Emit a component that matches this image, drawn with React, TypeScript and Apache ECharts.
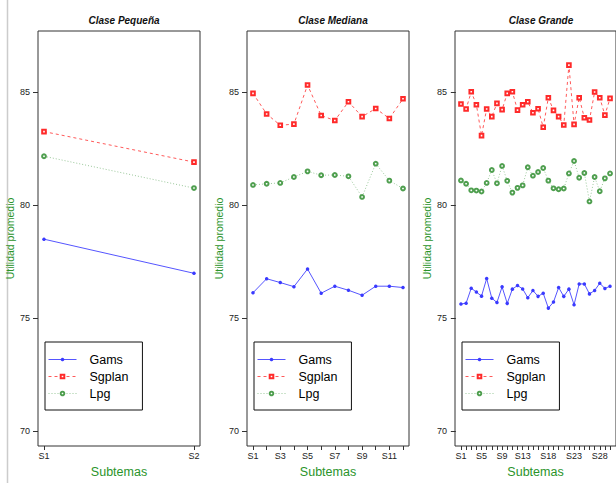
import React, { useEffect, useRef } from "react";
import * as echarts from "echarts";

// ---- Data ----
const panelTitles = ["Clase Pequeña", "Clase Mediana", "Clase Grande"];
const seriesNames = ["Gams", "Sgplan", "Lpg"];

const catsSmall = ["S1", "S2"];
const gamsSmall = [78.48, 76.97];
const sgplanSmall = [83.24, 81.89];
const lpgSmall = [82.15, 80.74];

const catsMed = ["S1", "S2", "S3", "S4", "S5", "S6", "S7", "S8", "S9", "S10", "S11", "S12"];
const gamsMed = [76.11, 76.73, 76.56, 76.38, 77.16, 76.09, 76.4, 76.22, 76.0, 76.4, 76.4, 76.34];
const sgplanMed = [84.93, 84.02, 83.52, 83.57, 85.3, 83.95, 83.73, 84.56, 83.9, 84.26, 83.82, 84.69];
const lpgMed = [80.88, 80.93, 80.97, 81.23, 81.48, 81.31, 81.32, 81.26, 80.35, 81.82, 81.07, 80.72];

const catsLarge = [
  "S1", "S2", "S3", "S4", "S5", "S6", "S7", "S8", "S9", "S10",
  "S11", "S12", "S13", "S14", "S15", "S16", "S17", "S18", "S19", "S20",
  "S21", "S22", "S23", "S24", "S25", "S26", "S27", "S28", "S29", "S30",
];
const gamsLarge = [
  75.61, 75.65, 76.31, 76.14, 75.96, 76.74, 75.87, 75.68, 76.37, 75.64,
  76.27, 76.43, 76.28, 75.89, 76.21, 75.95, 76.09, 75.43, 75.7, 76.34,
  75.95, 76.27, 75.58, 76.5, 76.5, 76.06, 76.21, 76.53, 76.3, 76.4,
];
const sgplanLarge = [
  84.46, 84.24, 85.0, 84.43, 83.06, 84.24, 83.9, 84.49, 84.21, 84.93,
  85.0, 84.19, 84.43, 84.56, 84.07, 84.25, 83.43, 84.74, 84.18, 83.9,
  83.53, 86.18, 83.56, 84.74, 83.85, 83.75, 84.99, 84.74, 83.97, 84.71,
];
const lpgLarge = [
  81.08, 80.93, 80.64, 80.63, 80.59, 80.97, 81.54, 80.95, 81.72, 81.06,
  80.54, 80.75, 80.86, 81.66, 81.29, 81.45, 81.63, 81.07, 80.73, 80.69,
  80.72, 81.39, 81.94, 81.2, 81.41, 80.15, 81.23, 80.6, 81.17, 81.39,
];

const yTicks = [70, 75, 80, 85];
const labelIdxSmall = [1, 2];
const labelIdxMed = [1, 3, 5, 7, 9, 11];
const labelIdxLarge = [1, 5, 9, 13, 18, 23, 28];

export default function App() {
  const ref = useRef<HTMLDivElement>(null);

  useEffect(() => {
    if (!ref.current) return;
    const chart = echarts.init(ref.current, undefined, { renderer: "svg" });

    const panels = [
      { cats: catsSmall, g: gamsSmall, s: sgplanSmall, l: lpgSmall, labels: labelIdxSmall, left: 38 },
      { cats: catsMed, g: gamsMed, s: sgplanMed, l: lpgMed, labels: labelIdxMed, left: 247 },
      { cats: catsLarge, g: gamsLarge, s: sgplanLarge, l: lpgLarge, labels: labelIdxLarge, left: 455 },
    ];
    const W = 162;
    const green = "#2a942a";
    const font = "Liberation Sans, Arial, sans-serif";

    const grids = panels.map((p) => ({
      left: p.left,
      width: W,
      top: 31,
      height: 417,
      show: true,
      borderColor: "#333",
      borderWidth: 1,
      backgroundColor: "transparent",
    }));

    const xAxes = panels.map((p, i) => {
      const n = p.cats.length;
      const pad = 0.04 * (n - 1);
      const ticks = p.cats.map((_, k) => k + 1);
      return {
        type: "value",
        gridIndex: i,
        min: 1 - pad,
        max: n + pad,
        splitLine: { show: false },
        axisLine: { show: false },
        axisTick: { show: true, length: 4, customValues: ticks, lineStyle: { color: "#333" } },
        axisLabel: {
          customValues: p.labels,
          formatter: (v: number) => p.cats[Math.round(v) - 1] ?? "",
          fontSize: 9,
          color: "#222",
          fontFamily: font,
          margin: 5,
        },
        name: "Subtemas",
        nameLocation: "middle",
        nameGap: 19,
        nameTextStyle: { color: green, fontSize: 12.5, fontFamily: font },
      };
    });

    const yAxes = panels.map((_, i) => ({
      type: "value",
      gridIndex: i,
      min: 69.33,
      max: 87.69,
      splitLine: { show: false },
      axisLine: { show: false },
      axisTick: { show: true, length: 5, customValues: yTicks, lineStyle: { color: "#333" } },
      axisLabel: {
        customValues: yTicks,
        fontSize: 9,
        color: "#222",
        fontFamily: font,
        margin: 8,
      },
      name: "Utilidad promedio",
      nameLocation: "middle",
      nameGap: 23,
      nameTextStyle: { color: green, fontSize: 10.5, fontFamily: font },
    }));

    const styles = [
      { color: "#3a3aff", lineColor: "#5555ff", type: "solid", symbol: "circle", size: 3.5 },
      { color: "#ff2a2a", lineColor: "#ff5a5a", type: [3, 3], symbol: "emptyRect", size: 3.6 },
      { color: "#4f9f4f", lineColor: "#9ac89a", type: [1, 2], symbol: "emptyCircle", size: 3.8 },
    ];

    const series: any[] = [];
    panels.forEach((p, i) => {
      [p.g, p.s, p.l].forEach((vals, k) => {
        const st = styles[k];
        series.push({
          type: "line",
          name: seriesNames[k],
          xAxisIndex: i,
          yAxisIndex: i,
          data: vals.map((v, j) => [j + 1, v]),
          symbol: st.symbol,
          symbolSize: st.size,
          itemStyle: { color: st.color, borderWidth: 1 },
          lineStyle: { color: st.lineColor, width: 1, type: st.type },
          z: 3 - k,
        });
      });
    });

    const legends = panels.map((p) => ({
      data: seriesNames,
      orient: "vertical",
      left: p.left + 7,
      top: 342,
      itemWidth: 28,
      itemHeight: 4.5,
      itemGap: 4,
      padding: [11, 14, 10, 3],
      borderColor: "#111",
      borderWidth: 1,
      borderRadius: 0,
      lineStyle: { width: 1 },
      textStyle: { fontSize: 12.5, color: "#000", fontFamily: font, padding: [0, 0, 0, 8] },
      selectedMode: false,
    }));

    const titles = panels.map((p, i) => ({
      text: panelTitles[i],
      left: p.left + W / 2,
      top: 10,
      textAlign: "center",
      textStyle: {
        fontSize: 10,
        fontStyle: "italic",
        fontWeight: "bold",
        color: "#111",
        fontFamily: font,
      },
    }));

    chart.setOption({
      animation: false,
      backgroundColor: "#fff",
      title: titles,
      grid: grids,
      xAxis: xAxes,
      yAxis: yAxes,
      legend: legends,
      series,
      graphic: [
        {
          type: "line",
          shape: { x1: 7.5, y1: 0, x2: 7.5, y2: 483 },
          style: { stroke: "#cccccc", lineWidth: 1.5 },
          silent: true,
        },
      ],
    });

    return () => chart.dispose();
  }, []);

  return (
    <div
      ref={ref}
      style={{ position: "fixed", left: 0, top: 0, width: 616, height: 483 }}
    />
  );
}
